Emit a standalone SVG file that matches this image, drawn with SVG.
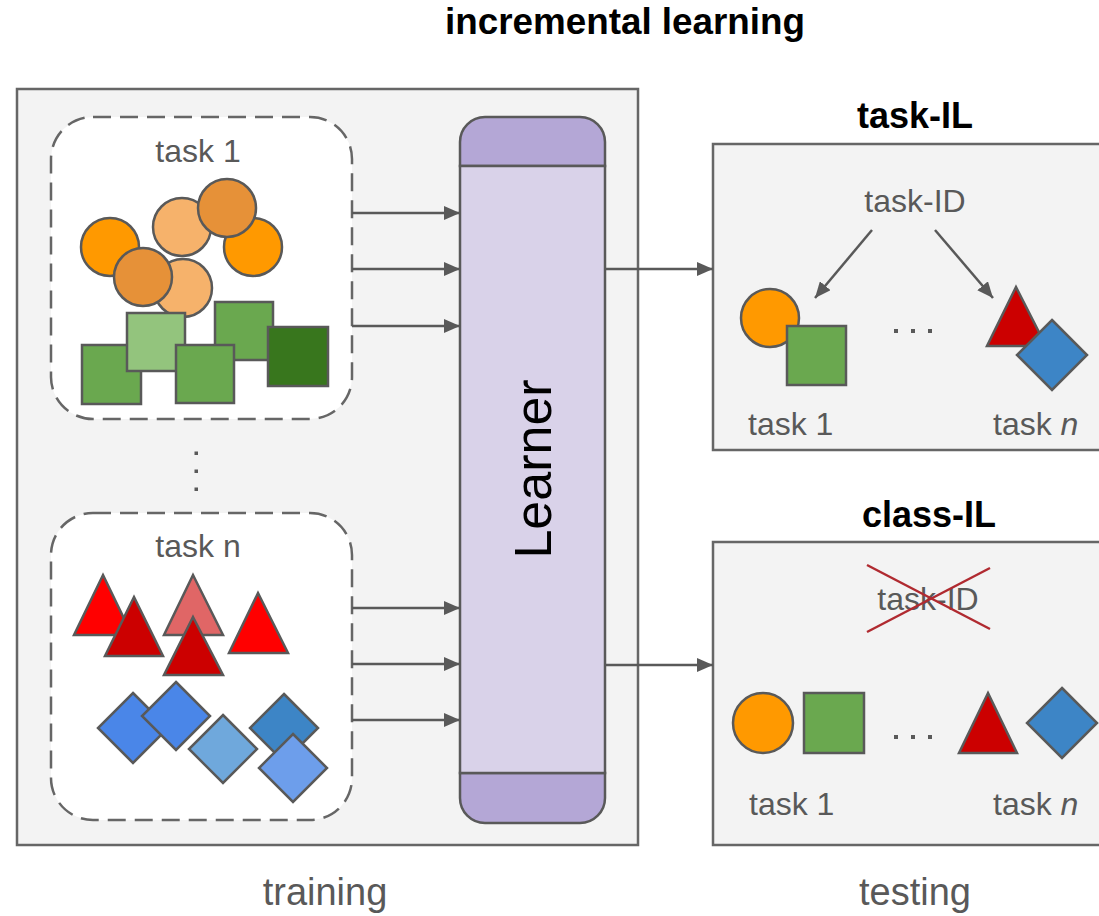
<svg xmlns="http://www.w3.org/2000/svg" width="1099" height="916" viewBox="0 0 1099 916">
  <defs>
    <marker id="arrow" viewBox="0 0 16 14" refX="16" refY="7" markerWidth="16" markerHeight="14" markerUnits="userSpaceOnUse" orient="auto">
      <path d="M0,0 L16,7 L0,14 Z" fill="#595959"/>
    </marker>
    <style>
      .panel { fill: #f3f3f3; stroke: #666666; stroke-width: 2.5; }
      .task-box { fill: #ffffff; stroke: #666666; stroke-width: 2.5; stroke-dasharray: 18 9; }
      .shape { stroke: #595959; stroke-width: 2.5; }
      .conn { stroke: #595959; stroke-width: 2.5; fill: none; marker-end: url(#arrow); }
      .label { font-family: "Liberation Sans", Arial, sans-serif; font-size: 32px; fill: #595959; }
      .title { font-family: "Liberation Sans", Arial, sans-serif; font-size: 36px; font-weight: bold; fill: #000000; }
      .caption { font-family: "Liberation Sans", Arial, sans-serif; font-size: 38px; fill: #595959; }
      .orange { fill: #ff9900; }
      .orange-light { fill: #f6b26b; }
      .orange-dark { fill: #e69138; }
      .green { fill: #6aa84f; }
      .green-light { fill: #93c47d; }
      .green-dark { fill: #38761d; }
      .red { fill: #ff0000; }
      .red-dark { fill: #cc0000; }
      .red-light { fill: #e06666; }
      .blue { fill: #4a86e8; }
      .blue-mid { fill: #3d85c6; }
      .blue-light { fill: #6fa8dc; }
      .blue-soft { fill: #6d9eeb; }
    </style>
  </defs>

  <rect width="1099" height="916" fill="#ffffff"/>

  <text class="title" x="625" y="34" text-anchor="middle" textLength="360" lengthAdjust="spacingAndGlyphs">incremental learning</text>

  <!-- training panel -->
  <g id="training">
    <rect class="panel" x="17" y="89" width="621" height="756"/>
    <text class="caption" x="325" y="905" text-anchor="middle">training</text>
  </g>

  <!-- task 1 data -->
  <g id="task1-data">
    <rect class="task-box" x="51" y="117" width="301" height="302" rx="42"/>
    <text class="label" x="198" y="162" text-anchor="middle">task 1</text>
    <circle class="shape orange" cx="110" cy="247" r="29"/>
    <circle class="shape orange" cx="253" cy="247" r="29"/>
    <circle class="shape orange-light" cx="182" cy="227" r="29"/>
    <circle class="shape orange-dark" cx="227" cy="208" r="29"/>
    <circle class="shape orange-light" cx="183" cy="288" r="29"/>
    <circle class="shape orange-dark" cx="143" cy="277" r="29"/>
    <rect class="shape green" x="82" y="345" width="59" height="59"/>
    <rect class="shape green-light" x="127" y="313" width="58" height="58"/>
    <rect class="shape green" x="215" y="302" width="58" height="58"/>
    <rect class="shape green" x="176" y="345" width="58" height="58"/>
    <rect class="shape green-dark" x="268" y="327" width="60" height="59"/>
  </g>

  <!-- vertical ellipsis between tasks -->
  <g id="task-gap" fill="#595959">
    <rect x="194.5" y="451.5" width="3.5" height="3.5"/>
    <rect x="194.5" y="469.5" width="3.5" height="3.5"/>
    <rect x="194.5" y="487.5" width="3.5" height="3.5"/>
  </g>

  <!-- task n data -->
  <g id="taskn-data">
    <rect class="task-box" x="51" y="513" width="301" height="307" rx="42"/>
    <text class="label" x="198" y="557" text-anchor="middle">task n</text>
    <polygon class="shape red" points="103,575 132,635 74,635"/>
    <polygon class="shape red-dark" points="134,597 163,656 105,656"/>
    <polygon class="shape red-light" points="193,575 223,635 164,635"/>
    <polygon class="shape red-dark" points="193,617 223,675 164,675"/>
    <polygon class="shape red" points="258,593 288,653 229,653"/>
    <polygon class="shape blue" points="133,693 168,728 133,763 98,728"/>
    <polygon class="shape blue" points="176,682 210,716 176,750 142,716"/>
    <polygon class="shape blue-light" points="223,715 257,749 223,783 189,749"/>
    <polygon class="shape blue-mid" points="284,694 318,728 284,762 250,728"/>
    <polygon class="shape blue-soft" points="293,734 327,768 293,802 259,768"/>
  </g>

  <!-- learner -->
  <g id="learner">
    <path class="shape" fill="#b4a7d6" d="M460,166 V142 A25,25 0 0 1 485,117 H580 A25,25 0 0 1 605,142 V166 Z"/>
    <path class="shape" fill="#b4a7d6" d="M460,773 V798 A25,25 0 0 0 485,823 H580 A25,25 0 0 0 605,798 V773 Z"/>
    <rect class="shape" fill="#d9d2e9" x="460" y="166" width="145" height="607"/>
    <text font-family="Liberation Sans, Arial, sans-serif" font-size="52" fill="#000000" text-anchor="middle" transform="translate(551,469) rotate(-90)">Learner</text>
  </g>

  <!-- task-IL testing -->
  <g id="task-il">
    <text class="title" x="915" y="128" text-anchor="middle">task-IL</text>
    <rect class="panel" x="713" y="144" width="400" height="306"/>
    <text class="label" x="915" y="212" text-anchor="middle">task-ID</text>
    <circle class="shape orange" cx="770" cy="318" r="29"/>
    <rect class="shape green" x="787" y="326" width="59" height="59"/>
    <g fill="#595959">
      <rect x="894" y="329" width="4" height="4"/>
      <rect x="911" y="329" width="4" height="4"/>
      <rect x="928" y="329" width="4" height="4"/>
    </g>
    <polygon class="shape red-dark" points="1016,287 1046,346 987,346"/>
    <polygon class="shape blue-mid" points="1052,320 1087,355 1052,390 1017,355"/>
    <text class="label" x="748" y="435">task 1</text>
    <text class="label" x="993" y="435">task <tspan font-style="italic">n</tspan></text>
  </g>

  <!-- class-IL testing -->
  <g id="class-il">
    <text class="title" x="929" y="527" text-anchor="middle">class-IL</text>
    <rect class="panel" x="713" y="542" width="400" height="303"/>
    <text class="label" x="928" y="610" text-anchor="middle">task-ID</text>
    <g stroke="#b02a30" stroke-width="2.5">
      <line x1="867" y1="565" x2="990" y2="629"/>
      <line x1="867" y1="632" x2="990" y2="568"/>
    </g>
    <circle class="shape orange" cx="763" cy="723" r="30"/>
    <rect class="shape green" x="804" y="693" width="60" height="60"/>
    <g fill="#595959">
      <rect x="894" y="735" width="4" height="4"/>
      <rect x="911" y="735" width="4" height="4"/>
      <rect x="928" y="735" width="4" height="4"/>
    </g>
    <polygon class="shape red-dark" points="988,693 1017,753 959,753"/>
    <polygon class="shape blue-mid" points="1062,688 1097,723 1062,758 1027,723"/>
    <text class="label" x="749" y="815">task 1</text>
    <text class="label" x="993" y="815">task <tspan font-style="italic">n</tspan></text>
    <text class="caption" x="915" y="905" text-anchor="middle">testing</text>
  </g>

  <!-- connectors -->
  <g id="connectors">
    <line class="conn" x1="352" y1="213" x2="460" y2="213"/>
    <line class="conn" x1="352" y1="269" x2="460" y2="269"/>
    <line class="conn" x1="352" y1="326" x2="460" y2="326"/>
    <line class="conn" x1="352" y1="608" x2="460" y2="608"/>
    <line class="conn" x1="352" y1="664" x2="460" y2="664"/>
    <line class="conn" x1="352" y1="720" x2="460" y2="720"/>
    <line class="conn" x1="605" y1="269" x2="713" y2="269"/>
    <line class="conn" x1="605" y1="665" x2="713" y2="665"/>
    <line class="conn" x1="872" y1="230" x2="815" y2="298"/>
    <line class="conn" x1="935" y1="230" x2="993" y2="298"/>
  </g>
</svg>
